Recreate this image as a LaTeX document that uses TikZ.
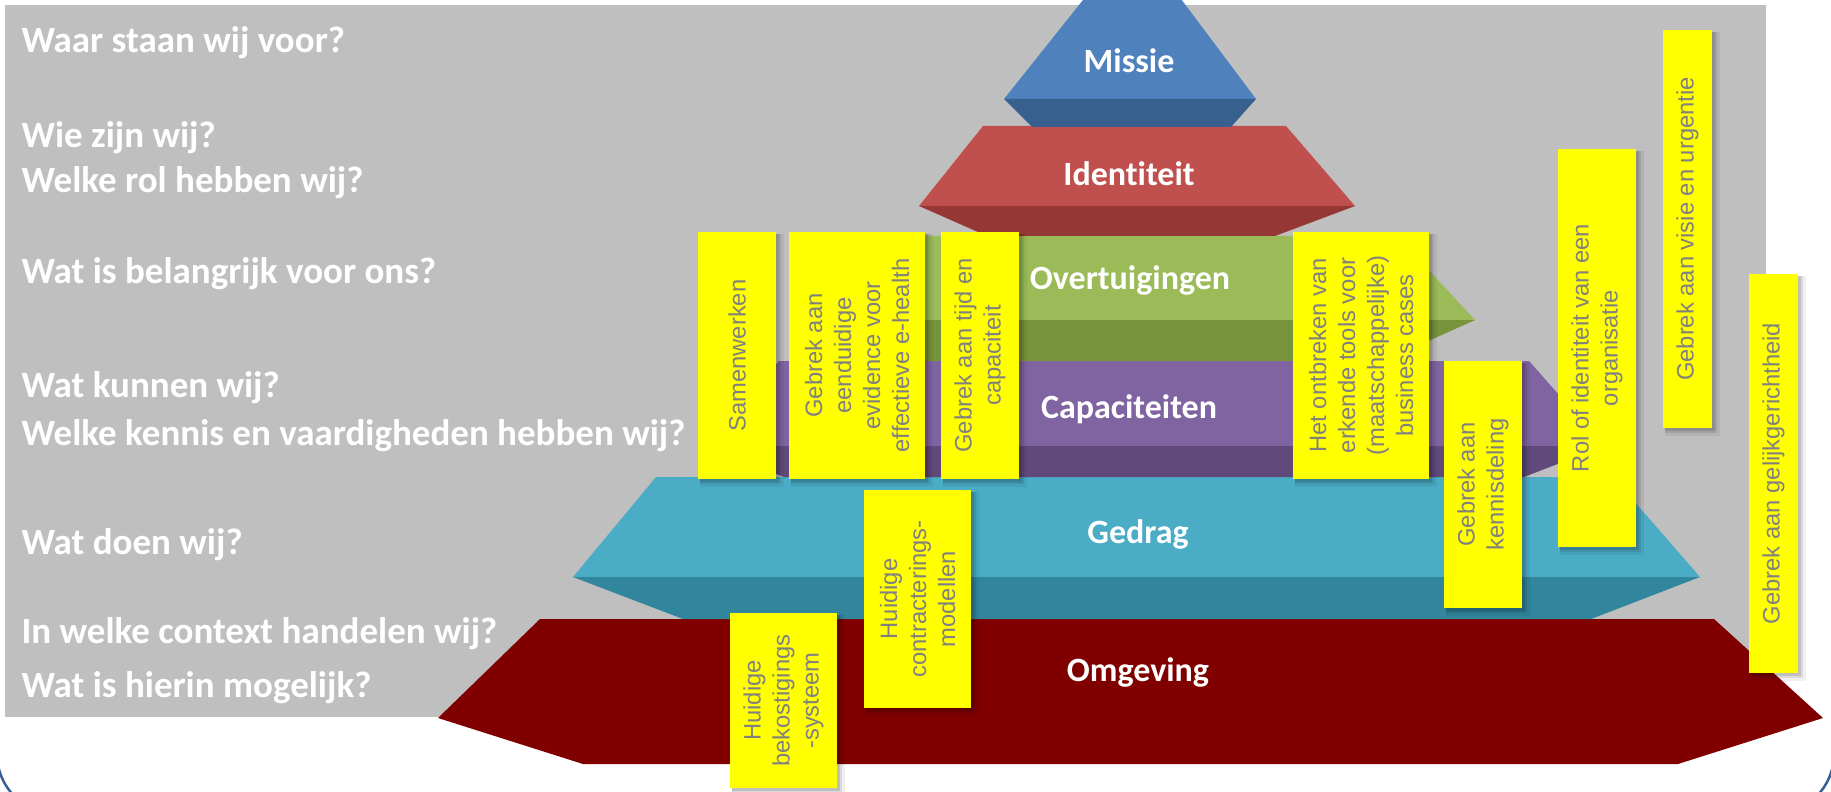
\documentclass[tikz,border=0pt]{standalone}
\usepackage{fontspec}
\newfontfamily\qfont{Carlito}[Ligatures={NoCommon}]
\newfontfamily\nfont{Liberation Sans}
\definecolor{bggray}{HTML}{BFBFBF}
\definecolor{missieL}{HTML}{4F81BD}
\definecolor{missieD}{HTML}{38608F}
\definecolor{identL}{HTML}{C0504D}
\definecolor{identD}{HTML}{953735}
\definecolor{overL}{HTML}{9BBB59}
\definecolor{overD}{HTML}{77933C}
\definecolor{capL}{HTML}{8064A2}
\definecolor{capD}{HTML}{604A7B}
\definecolor{gedL}{HTML}{4BACC6}
\definecolor{gedD}{HTML}{31859C}
\definecolor{omg}{HTML}{800000}
\definecolor{noteyellow}{HTML}{FFFF00}
\definecolor{notegray}{HTML}{808080}
\definecolor{framecol}{HTML}{3A5F95}
\tikzset{
  qtext/.style={anchor=base west, text=white, inner sep=0pt,
    font=\qfont\bfseries\fontsize{14.8}{17}\selectfont},
  lbl/.style={anchor=base, text=white, inner sep=0pt,
    font=\qfont\bfseries\fontsize{13.6}{16}\selectfont},
  notebox/.style={rotate=90, fill=noteyellow, inner sep=0pt, align=center,
    text=notegray, font=\nfont\fontsize{9.5}{11.6}\selectfont},
}
\newcommand\stickynote[6]{%
  \fill[black,opacity=0.06] ({#2+2},{#3+2}) rectangle ({#4+8},{#5+8});
  \fill[black,opacity=0.09] ({#2+2},{#3+2}) rectangle ({#4+5},{#5+5});
  \fill[black,opacity=0.12] ({#2+2},{#3+2}) rectangle ({#4+3},{#5+3});
  \node[notebox, minimum width={(#5-#3)*0.4pt}, minimum height={(#4-#2)*0.4pt}]
    (#1) at ({(#2+#4)/2},{(#3+#5)/2}) {#6};
}
\begin{document}
\begin{tikzpicture}[x=0.4pt,y=-0.4pt]
\useasboundingbox (0,0) rectangle (1831,792);
\clip (0,0) rectangle (1831,792);
\fill[white] (0,0) rectangle (1831,792);
% frame
\draw[framecol, line width=1pt, rounded corners=24pt] (-3,-100) rectangle (1834,814);
% gray background
\fill[bggray] (5,5) rectangle (1766,717);

% questions
\node[qtext] (q1) at (21,53) {Waar staan wij voor?};
\node[qtext] (q2) at (21,148) {Wie zijn wij?};
\node[qtext] (q3) at (21,193) {Welke rol hebben wij?};
\node[qtext] (q4) at (21,284) {Wat is belangrijk voor ons?};
\node[qtext] (q5) at (21,397) {Wat kunnen wij?};
\node[qtext] (q6) at (21,445) {Welke kennis en vaardigheden hebben wij?};
\node[qtext] (q7) at (21,554) {Wat doen wij?};
\node[qtext] (q8) at (21,643) {In welke context handelen wij?};
\node[qtext] (q9) at (21,697) {Wat is hierin mogelijk?};

% Omgeving
\fill[omg] (540,619) -- (1714,619) -- (1823,718) -- (1678,764) -- (583,764) -- (438,718) -- cycle;
% Gedrag
\fill[gedL] (656,477) -- (1613,477) -- (1700,577) -- (573,577) -- cycle;
\fill[gedD] (573,577) -- (1700,577) -- (1591,619) -- (683,619) -- cycle;
% Capaciteiten
\fill[capL] (779,361) -- (1529,361) -- (1604,446) -- (704,446) -- cycle;
\fill[capD] (704,446) -- (1604,446) -- (1524,477) -- (784,477) -- cycle;
% Overtuigingen
\fill[overL] (883,236) -- (1397,236) -- (1475,320) -- (805,320) -- cycle;
\fill[overD] (805,320) -- (1475,320) -- (1384,361) -- (896,361) -- cycle;
% Identiteit
\fill[identL] (983,126) -- (1286,126) -- (1355,206) -- (919,206) -- cycle;
\fill[identD] (919,206) -- (1355,206) -- (1275,236) -- (987,236) -- cycle;
% Missie
\fill[missieL] (1087,-5) -- (1178,-5) -- (1256,99) -- (1004,99) -- cycle;
\fill[missieD] (1004,99) -- (1256,99) -- (1231,127) -- (1032,127) -- cycle;

% layer labels
\node[lbl] (lmissie) at (1129,73) {Missie};
\node[lbl] (lident) at (1129,186) {Identiteit};
\node[lbl] (lover) at (1130,290) {Overtuigingen};
\node[lbl] (lcap) at (1129,418) {Capaciteiten};
\node[lbl] (lged) at (1138,543) {Gedrag};
\node[lbl] (lomg) at (1138,681) {Omgeving};

% sticky notes
\stickynote{n1}{698}{232}{776}{479}{Samenwerken}
\stickynote{n2}{789}{232}{925}{479}{Gebrek aan\\eenduidige\\evidence voor\\effectieve e-health}
\stickynote{n3}{941}{232}{1019}{479}{Gebrek aan tijd en\\capaciteit}
\stickynote{n4}{1293}{232}{1429}{479}{Het ontbreken van\\erkende tools voor\\(maatschappelijke)\\business cases}
\stickynote{n5}{1444}{361}{1522}{608}{Gebrek aan\\kennisdeling}
\stickynote{n6}{1558}{149}{1636}{547}{Rol of identiteit van een\\organisatie}
\stickynote{n7}{1663}{30}{1712}{428}{Gebrek aan visie en urgentie}
\stickynote{n8}{1749}{274}{1798}{673}{Gebrek aan gelijkgerichtheid}
\stickynote{n9}{864}{490}{971}{708}{Huidige\\contracterings-\\modellen}
\stickynote{n10}{730}{613}{837}{788}{Huidige\\bekostigings\\-systeem}
\end{tikzpicture}
\end{document}
